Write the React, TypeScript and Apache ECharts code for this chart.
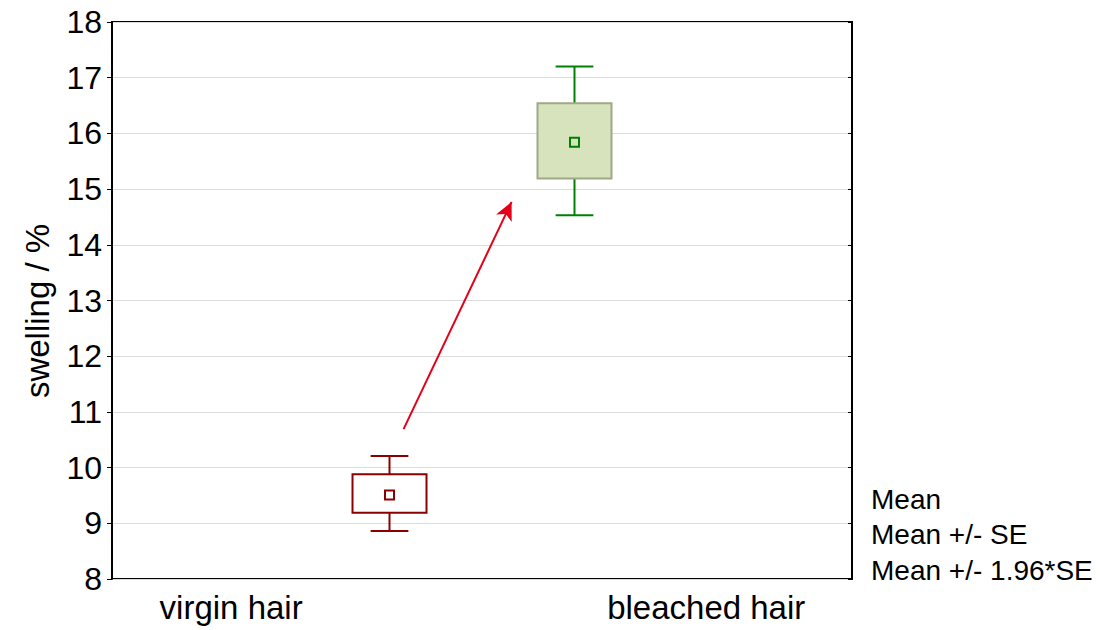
import React, { useEffect, useRef } from "react";
import * as echarts from "echarts";

// ---- data ----
const categories = ["virgin hair", "bleached hair"];
const boxPositions = [37.5, 62.5];
const labelPositions = [16.1, 80.3];
const means = [9.51, 15.84];
const seLow = [9.19, 15.19];
const seHigh = [9.88, 16.54];
const ciLow = [8.86, 14.53];
const ciHigh = [10.21, 17.2];
const yTicks = [8, 9, 10, 11, 12, 13, 14, 15, 16, 17, 18];
const legendLabels = ["Mean", "Mean +/- SE", "Mean +/- 1.96*SE"];
const arrowFrom = [39.4, 10.69];
const arrowTo = [54.0, 14.77];

const lineColors = ["#8B0000", "#008000"];
const boxFills = ["#FFFFFF", "#D7E3BD"];
const boxStrokes = ["#8B0000", "#9FA889"];
const markerFills = ["#FFFFFF", "#D7E3BD"];

const FONT = "'Liberation Sans', Arial, Helvetica, sans-serif";

export default function App() {
  const ref = useRef<HTMLDivElement>(null);

  useEffect(() => {
    if (!ref.current) return;
    const chart = echarts.init(ref.current, null, { renderer: "svg" });

    const data = categories.map((c, i) => [
      boxPositions[i],
      means[i],
      seLow[i],
      seHigh[i],
      ciLow[i],
      ciHigh[i],
      i,
    ]);

    const renderItem = (params: any, api: any) => {
      const x = api.value(0);
      const idx = api.value(6);
      const mean = api.coord([x, api.value(1)]);
      const seL = api.coord([x, api.value(2)]);
      const seH = api.coord([x, api.value(3)]);
      const ciL = api.coord([x, api.value(4)]);
      const ciH = api.coord([x, api.value(5)]);
      const boxW = api.size([10, 0])[0];
      const capW = api.size([5.1, 0])[0];
      const cx = mean[0];
      const lc = lineColors[idx];
      const lineStyle = { stroke: lc, lineWidth: 2 };
      const m = 4.5;
      return {
        type: "group",
        children: [
          { type: "line", shape: { x1: cx, y1: ciH[1], x2: cx, y2: seH[1] }, style: lineStyle },
          { type: "line", shape: { x1: cx, y1: seL[1], x2: cx, y2: ciL[1] }, style: lineStyle },
          { type: "line", shape: { x1: cx - capW / 2, y1: ciH[1], x2: cx + capW / 2, y2: ciH[1] }, style: lineStyle },
          { type: "line", shape: { x1: cx - capW / 2, y1: ciL[1], x2: cx + capW / 2, y2: ciL[1] }, style: lineStyle },
          {
            type: "rect",
            shape: { x: cx - boxW / 2, y: seH[1], width: boxW, height: seL[1] - seH[1] },
            style: { fill: boxFills[idx], stroke: boxStrokes[idx], lineWidth: 2 },
          },
          {
            type: "rect",
            shape: { x: cx - m, y: mean[1] - m, width: 2 * m, height: 2 * m },
            style: { fill: markerFills[idx], stroke: lc, lineWidth: 2 },
          },
        ],
      };
    };

    const option: any = {
      animation: false,
      grid: {
        left: 112,
        right: 263,
        top: 22,
        bottom: 51,
        show: true,
        borderColor: "#000",
        borderWidth: 2,
        backgroundColor: "#fff",
      },
      xAxis: {
        type: "value",
        min: 0,
        max: 100,
        axisLine: { show: false },
        axisTick: { show: false },
        splitLine: { show: false },
        axisLabel: {
          customValues: labelPositions,
          margin: 12,
          fontSize: 33,
          color: "#000",
          fontFamily: FONT,
          formatter: (v: number) => {
            let best = 0;
            labelPositions.forEach((p, i) => {
              if (Math.abs(p - v) < Math.abs(labelPositions[best] - v)) best = i;
            });
            return categories[best];
          },
        },
      },
      yAxis: [
        {
          type: "value",
          min: yTicks[0],
          max: yTicks[yTicks.length - 1],
          interval: 1,
          axisLine: { show: true, lineStyle: { color: "#000", width: 2 } },
          axisTick: { show: true, length: 5, inside: false, lineStyle: { color: "#000", width: 1 } },
          axisLabel: { fontSize: 32, color: "#000", margin: 10, fontFamily: FONT },
          splitLine: { show: true, lineStyle: { color: "#dcdcdc", width: 1 } },
        },
        {
          type: "value",
          position: "right",
          min: yTicks[0],
          max: yTicks[yTicks.length - 1],
          interval: 1,
          axisLine: { show: true, lineStyle: { color: "#000", width: 2 } },
          axisTick: { show: true, length: 4, inside: true, lineStyle: { color: "#000", width: 1 } },
          axisLabel: { show: false },
          splitLine: { show: false },
        },
      ],
      series: [
        {
          type: "custom",
          renderItem,
          data,
          encode: { x: 0, y: [1, 2, 3, 4, 5] },
          markLine: {
            silent: true,
            symbol: ["none", "arrow"],
            symbolSize: [13, 18],
            label: { show: false },
            lineStyle: { color: "#E2001A", width: 2, type: "solid" },
            data: [[{ coord: arrowFrom }, { coord: arrowTo }]],
          },
        },
      ],
      graphic: [
        {
          type: "text",
          x: 37,
          y: 311,
          rotation: Math.PI / 2,
          style: {
            text: "swelling / %",
            fontSize: 33,
            fontFamily: FONT,
            fill: "#000",
            align: "center",
            verticalAlign: "middle",
          },
        },
        ...legendLabels.map((t, i) => ({
          type: "text",
          x: 871,
          y: 499 + i * 35.5,
          style: {
            text: t,
            fontSize: 28,
            fontFamily: FONT,
            fill: "#000",
            align: "left",
            verticalAlign: "middle",
          },
        })),
      ],
    };

    chart.setOption(option);
    return () => chart.dispose();
  }, []);

  return (
    <div
      ref={ref}
      style={{ position: "fixed", left: 0, top: 0, width: 1115, height: 630, background: "#fff" }}
    />
  );
}
